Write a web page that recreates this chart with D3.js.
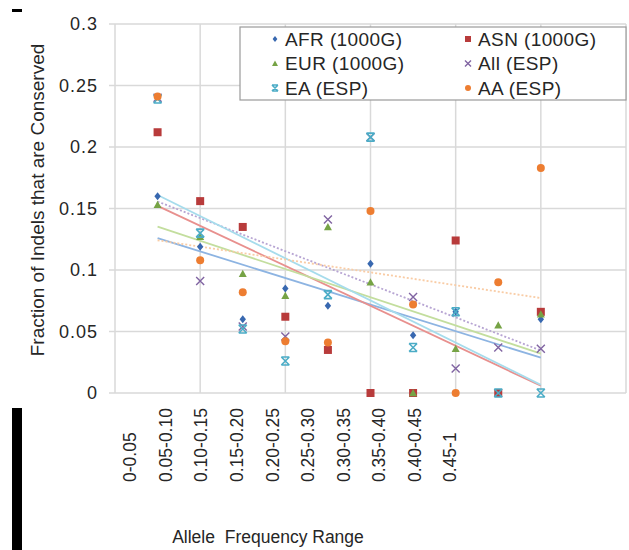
<!DOCTYPE html>
<html>
<head>
<meta charset="utf-8">
<script src="https://cdn.jsdelivr.net/npm/d3@7"></script>
<style>
  body { margin: 0; background: #fff; }
  text { font-family: "Liberation Sans", Arial, sans-serif; fill: #262626; }
</style>
</head>
<body>
<svg id="chart" width="629" height="550"></svg>
<script>
// allele frequency bins (x = 1..10)
const categories = ["0-0.05", "0.05-0.10", "0.10-0.15", "0.15-0.20", "0.20-0.25",
                    "0.25-0.30", "0.30-0.35", "0.35-0.40", "0.40-0.45", "0.45-1"]

// fraction of indels conserved
const afr    = [0.160, 0.119, 0.060, 0.085, 0.071, 0.105, 0.047, 0.066, 0.000, 0.060]
const asn    = [0.212, 0.156, 0.135, 0.062, 0.035, 0.000, 0.000, 0.124, 0.000, 0.066]
const eur    = [0.153, 0.127, 0.097, 0.079, 0.135, 0.090, 0.000, 0.036, 0.055, 0.064]
const allEsp = [0.240, 0.091, 0.054, 0.046, 0.141, 0.208, 0.078, 0.020, 0.037, 0.036]
const ea     = [0.239, 0.130, 0.052, 0.026, 0.080, 0.208, 0.037, 0.066, 0.000, 0.000]
const aa     = [0.241, 0.108, 0.082, 0.042, 0.041, 0.148, 0.072, 0.000, 0.090, 0.183]

const yTicks = [0, 0.05, 0.1, 0.15, 0.2, 0.25, 0.3]
const xGrid = [0, 2, 4, 6, 8, 10, 12]

// series styling, in excel drawing order
const series = [
  {name: "AFR (1000G)", values: afr,    shape: "diamond",  color: "#3868b0", trend: "#8db4e2", dash: null},
  {name: "ASN (1000G)", values: asn,    shape: "square",   color: "#b83b3b", trend: "#e8908e", dash: null},
  {name: "EUR (1000G)", values: eur,    shape: "triangle", color: "#76a345", trend: "#c3de9e", dash: null},
  {name: "All (ESP)",   values: allEsp, shape: "x",        color: "#8064a2", trend: "#b7a5d3", dash: "2,2"},
  {name: "EA (ESP)",    values: ea,     shape: "star",     color: "#4bacc6", trend: "#a6dcec", dash: null},
  {name: "AA (ESP)",    values: aa,     shape: "circle",   color: "#ed7d31", trend: "#f9cca5", dash: "2,2"}
]

const svg = d3.select("#chart")

const x = d3.scaleLinear().domain([0, 12]).range([115, 626])
const y = d3.scaleLinear().domain([0, 0.3]).range([393, 24])
// the category text sits in its own strip under the plot
const xLabel = d3.scalePoint().domain(categories).range([130, 450])

// stray black marks from the source image
svg.append("rect").attr("x", 12).attr("y", 9).attr("width", 10).attr("height", 3).attr("fill", "#000")
svg.append("rect").attr("x", 12).attr("y", 408).attr("width", 10).attr("height", 142).attr("fill", "#000")

// GRID
svg.append("g")
  .selectAll("line")
  .data(yTicks)
  .enter()
  .append("line")
    .attr("x1", 109).attr("x2", x(12))
    .attr("y1", d => y(d)).attr("y2", d => y(d))
    .attr("stroke", "#d9d9d9").attr("stroke-width", 1.5)

svg.append("g")
  .selectAll("line")
  .data(xGrid)
  .enter()
  .append("line")
    .attr("x1", d => x(d)).attr("x2", d => x(d))
    .attr("y1", y(0.3)).attr("y2", y(0))
    .attr("stroke", "#d9d9d9").attr("stroke-width", 1.5)

// Y TICK LABELS
svg.append("g")
  .selectAll("text")
  .data(yTicks)
  .enter()
  .append("text")
    .attr("x", 98)
    .attr("y", d => y(d))
    .attr("dy", "0.36em")
    .attr("text-anchor", "end")
    .style("font-size", "18px")
    .style("letter-spacing", "1px")
    .text(d => d3.format("")(d))

// X CATEGORY LABELS (rotated)
svg.append("g")
  .selectAll("text")
  .data(categories)
  .enter()
  .append("text")
    .attr("transform", d => `translate(${xLabel(d)},482) rotate(-90)`)
    .attr("dy", "0.36em")
    .attr("text-anchor", "start")
    .style("font-size", "17.5px")
    .text(d => d)

// AXIS TITLES
svg.append("text")
  .attr("transform", "translate(37,200) rotate(-90)")
  .attr("dy", "0.36em")
  .attr("text-anchor", "middle")
  .style("font-size", "19px")
  .text("Fraction of Indels that are Conserved")

svg.append("text")
  .attr("x", 268)
  .attr("y", 543)
  .attr("text-anchor", "middle")
  .style("font-size", "17.5px")
  .style("white-space", "pre")
  .text("Allele  Frequency Range")

// least squares trendline, same as excel's linear trendline
const fit = vals => {
  const xs = vals.map((v, i) => i + 1)
  const mx = d3.mean(xs), my = d3.mean(vals)
  const sxy = d3.sum(xs, (xi, i) => (xi - mx) * (vals[i] - my))
  const sxx = d3.sum(xs, xi => (xi - mx) * (xi - mx))
  const slope = sxy / sxx
  return xi => my + slope * (xi - mx)
}

// TRENDLINES
svg.append("g")
  .selectAll("line")
  .data(series)
  .enter()
  .append("line")
    .attr("x1", x(1)).attr("x2", x(categories.length))
    .attr("y1", s => y(fit(s.values)(1)))
    .attr("y2", s => y(fit(s.values)(categories.length)))
    .attr("stroke", s => s.trend)
    .attr("stroke-width", 1.8)
    .attr("stroke-dasharray", s => s.dash)

// marker drawing helper
const drawMarker = (g, shape, color, r) => {
  if (shape === "diamond") {
    g.append("path").attr("d", `M0,${-r}L${r * 0.8},0L0,${r}L${-r * 0.8},0Z`).attr("fill", color)
  } else if (shape === "square") {
    g.append("rect").attr("x", -r).attr("y", -r).attr("width", 2 * r).attr("height", 2 * r).attr("fill", color)
  } else if (shape === "triangle") {
    g.append("path").attr("d", `M0,${-r}L${r},${r * 0.8}L${-r},${r * 0.8}Z`).attr("fill", color)
  } else if (shape === "circle") {
    g.append("circle").attr("r", r).attr("fill", color)
  } else if (shape === "x") {
    g.append("path").attr("d", `M${-r},${-r}L${r},${r}M${-r},${r}L${r},${-r}`)
      .attr("stroke", color).attr("stroke-width", 1.4).attr("fill", "none")
  } else if (shape === "star") {
    g.append("path").attr("d", `M${-r},${-r}L${r},${r}M${-r},${r}L${r},${-r}M${-r},${-r}L${r},${-r}M${-r},${r}L${r},${r}`)
      .attr("stroke", color).attr("stroke-width", 1.6).attr("fill", "none")
  }
}

// MARKERS
series.forEach(s => {
  const g = svg.append("g")
  s.values.forEach((v, i) => {
    const m = g.append("g").attr("transform", `translate(${x(i + 1)},${y(v)})`)
    drawMarker(m, s.shape, s.color, 4)
  })
})

// LEGEND
const legend = svg.append("g")
legend.append("rect")
  .attr("x", 240).attr("y", 27).attr("width", 386).attr("height", 73)
  .attr("fill", "#fff").attr("stroke", "#9a9a9a").attr("stroke-width", 1.2)

// two columns: left AFR/EUR/EA, right ASN/All/AA
series.forEach((s, i) => {
  const col = i % 2, row = Math.floor(i / 2)
  const lx = col === 0 ? 275 : 468
  const ly = 39 + row * 24.5
  const m = legend.append("g").attr("transform", `translate(${lx},${ly})`)
  drawMarker(m, s.shape, s.color, 3)
  legend.append("text")
    .attr("x", lx + 10)
    .attr("y", ly)
    .attr("dy", "0.36em")
    .style("font-size", "19px")
    .style("letter-spacing", "0.4px")
    .text(s.name)
})
</script>
</body>
</html>
